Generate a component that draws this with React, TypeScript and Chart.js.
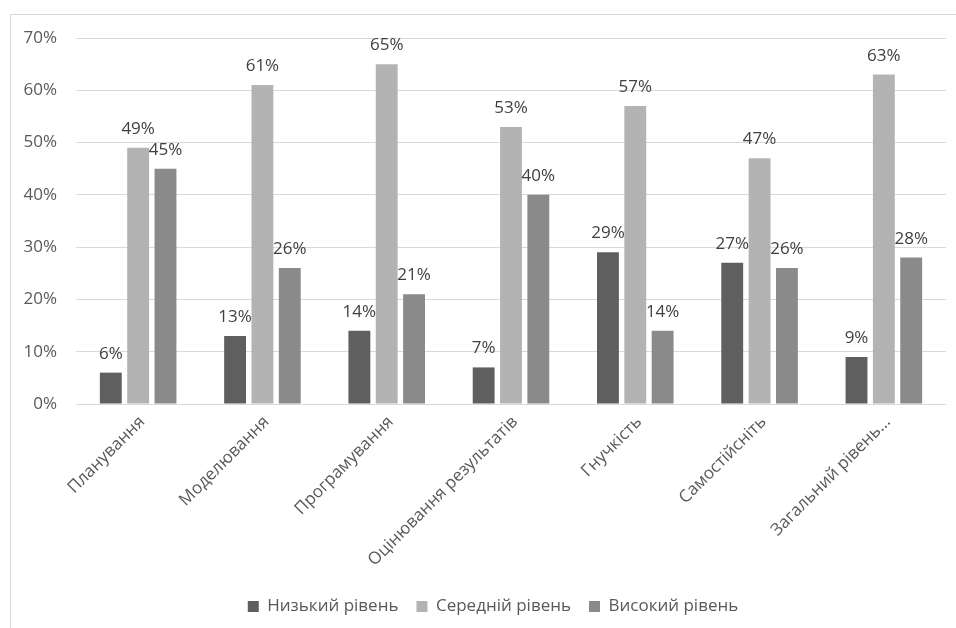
import React, { useEffect, useRef } from "react";
import { Chart, registerables } from "chart.js";

Chart.register(...registerables);

const categories = [
  "Планування",
  "Моделювання",
  "Програмування",
  "Оцінювання результатів",
  "Гнучкість",
  "Самостійсніть",
  "Загальний рівень...",
];
const lowLevel = [6, 13, 14, 7, 29, 27, 9];
const midLevel = [49, 61, 65, 53, 57, 47, 63];
const highLevel = [45, 26, 21, 40, 14, 26, 28];
const seriesNames = ["Низький рівень", "Середній рівень", "Високий рівень"];
const yTicks = [0, 10, 20, 30, 40, 50, 60, 70];

const FONT = "'Open Sans', 'Noto Sans', sans-serif";

const labelPlugin = {
  id: "barLabels",
  afterLayout(chart: any) {
    if (chart.legend) {
      chart.legend.left += 20;
      chart.legend.right += 20;
    }
  },
  afterDatasetsDraw(chart: any) {
    const ctx = chart.ctx;
    ctx.save();
    ctx.font = `17px ${FONT}`;
    ctx.fillStyle = "#404040";
    ctx.textAlign = "center";
    ctx.textBaseline = "alphabetic";
    chart.data.datasets.forEach((ds: any, i: number) => {
      const meta = chart.getDatasetMeta(i);
      meta.data.forEach((el: any, j: number) => {
        ctx.fillText(ds.data[j] + "%", el.x, el.y - 14);
      });
    });
    ctx.restore();
  },
};

export default function App() {
  const ref = useRef<HTMLCanvasElement>(null);
  useEffect(() => {
    if (!ref.current) return;
    const chart = new Chart(ref.current, {
      type: "bar",
      data: {
        labels: categories,
        datasets: [
          { label: seriesNames[0], data: lowLevel, backgroundColor: "#5f5f5f" },
          { label: seriesNames[1], data: midLevel, backgroundColor: "#b3b3b3" },
          { label: seriesNames[2], data: highLevel, backgroundColor: "#8a8a8a" },
        ],
      },
      options: {
        responsive: false,
        animation: false,
        layout: { padding: { left: 0, top: 38, right: 10, bottom: 9 } },
        datasets: {
          bar: { categoryPercentage: 0.66, barPercentage: 0.8 },
        } as any,
        plugins: {
          tooltip: { enabled: false },
          legend: {
            position: "bottom",
            labels: {
              font: { family: FONT, size: 17 },
              color: "#595959",
              boxWidth: 11,
              boxHeight: 11,
              padding: 18,
            },
          },
        },
        scales: {
          x: {
            grid: { display: false },
            border: { display: false },
            ticks: {
              font: { family: FONT, size: 17 },
              color: "#595959",
              maxRotation: 45,
              minRotation: 45,
              autoSkip: false,
              padding: 0,
              labelOffset: 4,
            },
            afterFit(scale: any) {
              scale.height = 176;
            },
          },
          y: {
            min: 0,
            max: 70,
            afterBuildTicks(scale: any) {
              scale.ticks = yTicks.map((v) => ({ value: v }));
            },
            grid: { color: "#d9d9d9", lineWidth: 1, drawTicks: false },
            border: { display: false },
            ticks: {
              font: { family: FONT, size: 17 },
              color: "#595959",
              padding: 19,
              callback: (v: any) => v + "%",
            },
            afterFit(scale: any) {
              scale.width = 76;
            },
          },
        },
      },
      plugins: [labelPlugin],
    });
    return () => chart.destroy();
  }, []);
  return (
    <div
      style={{
        position: "fixed",
        left: 0,
        top: 0,
        width: 956,
        height: 628,
        overflow: "hidden",
        background: "#fff",
      }}
    >
      <div
        style={{
          position: "absolute",
          left: 10,
          top: 14,
          width: 980,
          height: 660,
          border: "1px solid #d9d9d9",
        }}
      />
      <canvas
        ref={ref}
        width={956}
        height={634}
        style={{ position: "absolute", left: 0, top: 0 }}
      />
    </div>
  );
}
